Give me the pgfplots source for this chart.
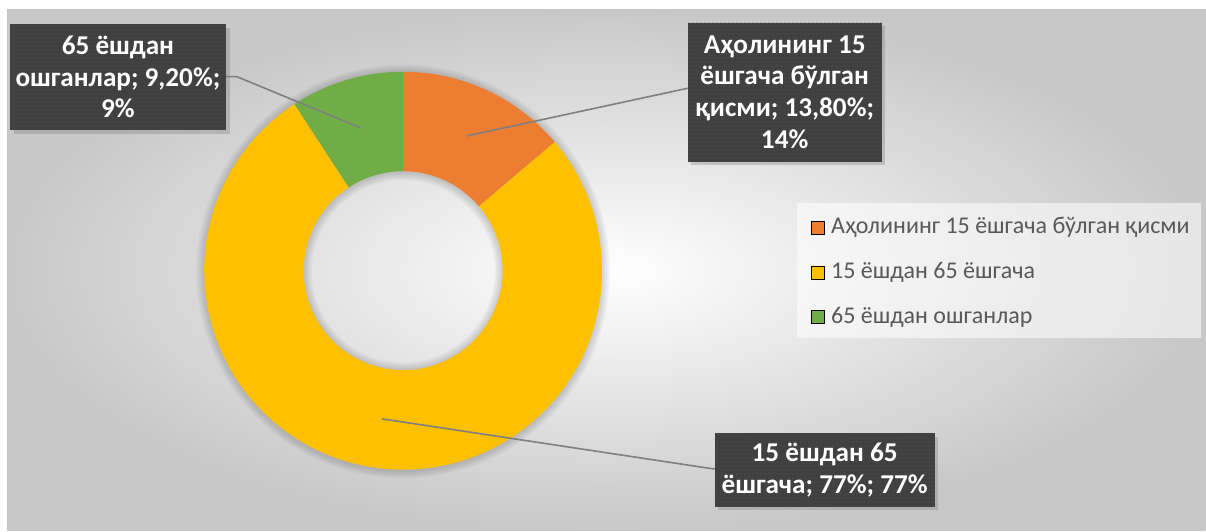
\documentclass[border=0pt]{standalone}
\usepackage{fontspec}
\setmainfont{Carlito}
\usepackage{pgfplots}
\pgfplotsset{compat=1.18}
\usepackage{pgfplotstable}
\usetikzlibrary{shadows,patterns}
\definecolor{cOrange}{HTML}{ED7D31}
\definecolor{cYellow}{HTML}{FFC000}
\definecolor{cGreen}{HTML}{70AD47}
\definecolor{cLabel}{HTML}{404040}
\definecolor{cDot}{HTML}{555555}
\definecolor{cLine}{HTML}{7F7F7F}
\definecolor{cText}{HTML}{595959}
\definecolor{cBg}{HTML}{C8C8C8}
\definecolor{cFrame}{HTML}{C4C4C4}

\pgfdeclarepatternformonly{finedots}{\pgfpoint{0pt}{0pt}}{\pgfpoint{2pt}{2pt}}{\pgfpoint{2pt}{2pt}}{\pgfpathcircle{\pgfpoint{1pt}{1pt}}{0.35pt}\pgfusepath{fill}}

\pgfplotstableread{
share
13.8
77
9.2
}\sharetable
\pgfplotstablegetelem{0}{share}\of\sharetable \let\va\pgfplotsretval
\pgfplotstablegetelem{1}{share}\of\sharetable \let\vb\pgfplotsretval
\pgfplotstablegetelem{2}{share}\of\sharetable \let\vc\pgfplotsretval
\pgfmathsetmacro{\aA}{90}
\pgfmathsetmacro{\aB}{90-3.6*\va}
\pgfmathsetmacro{\aC}{\aB-3.6*\vb}
\pgfmathsetmacro{\aD}{\aC-3.6*\vc}
\newcommand{\sector}[3]{%
  \fill[#1] (axis cs:403.3,260.2) ++(#2:99.5pt) arc[start angle=#2, end angle=#3, radius=99.5pt]
    -- ++(#3:-49.75pt) arc[start angle=#3, end angle=#2, radius=49.75pt] -- cycle;}
\newcommand{\glow}[2]{\fill[black, opacity=0.03, even odd rule] (axis cs:403.3,259.5) circle[radius=#1] (axis cs:403.3,259.5) circle[radius=#2];}

\begin{document}
\begin{tikzpicture}
\begin{axis}[
  width=603pt, height=265.5pt, scale only axis,
  xmin=0, xmax=1206, ymin=0, ymax=531,
  hide axis, clip=false,
  legend image code/.code={\fill[#1] (0pt,-3.25pt) rectangle (6.5pt,3.25pt);},
  legend style={at={(0.6722,0.593)}, anchor=north west, draw=none, fill=none,
    inner sep=0pt, row sep=11.5pt, column sep=3.3pt,
    font=\fontsize{12}{14}\selectfont, text=cText,
    nodes={inner sep=0pt, text height=8.5pt, text depth=2.5pt}},
  legend cell align=left,
]
% page background
\fill[white] (axis cs:0,0) rectangle (axis cs:1206,531);
\path[shade, inner color=white, outer color=cBg] (axis cs:8,0) rectangle (axis cs:1206,521);
\draw[cFrame, line width=0.5pt] (axis cs:8,0) -- (axis cs:8,521) -- (axis cs:1206,521);
% legend box
\fill[white, opacity=0.55] (axis cs:797,193) rectangle (axis cs:1201,328.3);
% soft shadow of the ring
\glow{100.3pt}{48.95pt}
\glow{101.1pt}{48.15pt}
\glow{101.9pt}{47.35pt}
\glow{102.7pt}{46.55pt}
\glow{103.5pt}{45.75pt}
% ring
\sector{cOrange}{\aA}{\aB}
\sector{cYellow}{\aB}{\aC}
\sector{cGreen}{\aC}{\aD}
% leader lines
\draw[cLine, line width=0.8pt] (axis cs:226,454.3) -- (axis cs:237,454.3) -- (axis cs:361,403);
\draw[cLine, line width=0.8pt] (axis cs:688,442.7) -- (axis cs:466.7,395);
\draw[cLine, line width=0.8pt] (axis cs:382,112) -- (axis cs:713,62) -- (axis cs:716,62);
% data labels
\tikzset{lab/.style={fill=cLabel, text=white, align=center, inner sep=0pt,
  font={\bfseries\fontsize{13.6}{15.9}\selectfont},
  drop shadow={shadow xshift=1.8pt, shadow yshift=-1.8pt, opacity=0.35},
  postaction={pattern=finedots, pattern color=cDot}}}
\node[lab, minimum width=108pt, minimum height=53pt] at (axis cs:118,454) {65 ёшдан\\ошганлар; 9,20\%;\\9\%};
\node[lab, minimum width=97pt, minimum height=69.5pt] at (axis cs:785,438.8) {Аҳолининг 15\\ёшгача бўлган\\қисми; 13,80\%;\\14\%};
\node[lab, minimum width=110pt, minimum height=36.8pt] at (axis cs:825,61) {15 ёшдан 65\\ёшгача; 77\%; 77\%};
% legend
\addlegendimage{fill=cOrange}
\addlegendentry{Аҳолининг 15 ёшгача бўлган қисми}
\addlegendimage{fill=cYellow}
\addlegendentry{15 ёшдан 65 ёшгача}
\addlegendimage{fill=cGreen}
\addlegendentry{65 ёшдан ошганлар}
\end{axis}
\end{tikzpicture}
\end{document}
